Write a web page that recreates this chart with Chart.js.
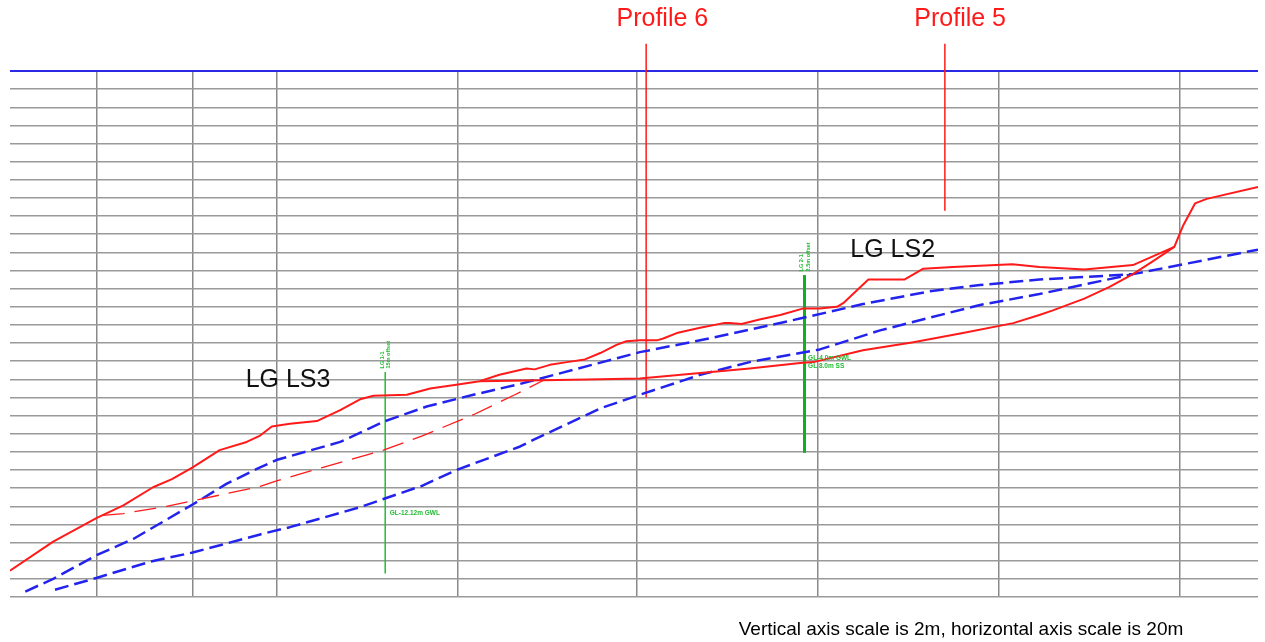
<!DOCTYPE html>
<html lang="en">
<head>
    <meta charset="UTF-8">
    <title>Profile LG LS2 / LG LS3</title>
    <script src="https://cdn.jsdelivr.net/npm/chart.js"></script>
    <style>
        body { margin: 0; background: #fff; }
        #box { width: 1265px; height: 642px; }
    </style>
</head>
<body>
<div id="box"><canvas id="perfil"></canvas></div>

<script>
    // chainage (m) and level (m)
    const groundX = [0, 4.8, 9.6, 12.6, 15.9, 18.0, 20.3, 23.3, 26.3, 27.8, 29.1, 31.1, 34.1, 36.7, 38.9, 40.4, 44.1, 46.7, 49.6, 52.2, 54.4, 57.4, 58.3, 60.0, 61.9, 63.9, 65.6, 67.4, 68.5, 70.0, 71.9, 72.6, 74.1, 76.7, 79.3, 80.0, 81.3, 83.3, 85.6, 88.1, 90.0, 91.9, 92.6, 95.4, 99.4, 101.5, 104.8, 111.4, 114.4, 119.4, 124.8, 129.4, 130.4, 131.7, 133.0, 138.7];
    const groundY = [2.9, 6.1, 8.7, 10.1, 12.1, 13.0, 14.3, 16.2, 17.1, 17.8, 18.8, 19.1, 19.4, 20.6, 21.8, 22.2, 22.3, 23.0, 23.4, 23.8, 24.5, 25.2, 25.1, 25.6, 25.9, 26.2, 26.9, 27.8, 28.2, 28.3, 28.3, 28.5, 29.1, 29.7, 30.2, 30.2, 30.1, 30.6, 31.1, 31.8, 31.8, 32.0, 32.4, 35.0, 35.0, 36.2, 36.4, 36.7, 36.4, 36.1, 36.6, 38.6, 41.0, 43.4, 43.9, 45.2];

    const lowerX = [52.2, 59.3, 65.6, 70.0, 76.7, 82.2, 87.8, 89.3, 94.8, 100.4, 105.9, 111.5, 114.4, 115.9, 119.4, 122.2, 124.8, 127.0, 129.4];
    const lowerY = [23.8, 23.9, 24.0, 24.1, 24.7, 25.2, 25.8, 25.9, 27.2, 28.1, 29.1, 30.2, 31.1, 31.6, 32.9, 34.2, 35.6, 37.0, 38.6];

    const oldGroundX = [10.3, 12.6, 17.4, 20.3, 27.8, 29.3, 34.8, 41.5, 45.9, 51.5, 56.1, 59.3];
    const oldGroundY = [9.0, 9.2, 10.0, 10.6, 12.2, 12.7, 14.3, 16.2, 17.8, 20.1, 22.3, 23.9];

    const slipAX = [1.7, 4.8, 9.6, 13.7, 20.3, 24.1, 27.8, 29.6, 36.7, 41.7, 46.3, 51.5, 56.7, 70.0, 76.7, 87.8, 94.8, 102.2, 107.8, 114.4, 119.6, 124.8, 138.7];
    const slipAY = [0.6, 2.0, 4.6, 6.4, 10.2, 12.5, 14.3, 15.1, 17.1, 19.4, 21.0, 22.3, 23.5, 27.0, 28.3, 30.7, 32.3, 33.7, 34.4, 35.0, 35.3, 35.6, 38.3];

    const slipBX = [5.0, 9.6, 15.6, 20.3, 27.8, 31.1, 38.9, 41.5, 45.9, 49.6, 56.7, 58.1, 65.6, 70.0, 76.7, 82.2, 87.8, 90.0, 96.7, 102.2, 107.8, 114.4, 124.8];
    const slipBY = [0.8, 2.1, 3.9, 4.9, 6.9, 7.7, 9.9, 10.8, 12.3, 14.0, 16.6, 17.3, 20.8, 22.3, 24.5, 25.9, 26.9, 27.3, 29.4, 30.8, 32.2, 33.4, 35.6];

    // section marks: chainage, bottom level, top level
    const profile6 = [70.7, 22.0, 61.0];
    const profile5 = [103.9, 42.6, 61.0];
    const lg11 = [41.7, 2.6, 24.8];
    const lg21 = [88.3, 15.9, 35.5];

    const gridX = [9.6, 20.3, 29.7, 49.8, 69.7, 89.8, 109.9, 130.0];
    const xMax = 138.7;
    const yMax = 58;

    function pares(xs, ys) {
        let r = [];
        for (let i = 0; i < xs.length; i++) {
            r.push({ x: xs[i], y: ys[i] });
        }
        return r;
    }

    function marca(m) {
        return [{ x: m[0], y: m[1] }, { x: m[0], y: m[2] }];
    }

    const vermelho = '#ff1a1a';
    const azul = '#2323ee';
    const verde = '#22bb33';

    const textos = [
        { t: 'Profile 6', x: 72.5, y: 63.7, cor: vermelho, font: '25px "Liberation Sans"' },
        { t: 'Profile 5', x: 105.6, y: 63.7, cor: vermelho, font: '25px "Liberation Sans"' },
        { t: 'LG LS3', x: 30.9, y: 23.9, cor: '#111', font: '25px "Liberation Sans"' },
        { t: 'LG LS2', x: 98.1, y: 38.3, cor: '#111', font: '25px "Liberation Sans"' },
        { t: 'GL-12.12m GWL', x: 42.2, y: 9.2, cor: verde, font: 'bold 6.5px "Liberation Sans"', align: 'left' },
        { t: 'GL-4.0m GWL', x: 88.7, y: 26.3, cor: verde, font: 'bold 6.5px "Liberation Sans"', align: 'left' },
        { t: 'GL 8.0m SS', x: 88.7, y: 25.4, cor: verde, font: 'bold 6.5px "Liberation Sans"', align: 'left' }
    ];
    const rotulos = [
        { linhas: ['LG 1-1', '15m offset'], x: 41.7, y: 25.2 },
        { linhas: ['LG 2-1', '2.5m offset'], x: 88.3, y: 35.9 }
    ];

    const pluginTextos = {
        id: 'textos',
        afterDatasetsDraw(chart) {
            const ctx = chart.ctx;
            const sx = chart.scales.x, sy = chart.scales.y;
            ctx.save();
            textos.forEach(function (a) {
                ctx.font = a.font;
                ctx.fillStyle = a.cor;
                ctx.textAlign = a.align || 'center';
                ctx.textBaseline = 'middle';
                ctx.fillText(a.t, sx.getPixelForValue(a.x), sy.getPixelForValue(a.y));
            });
            rotulos.forEach(function (r) {
                ctx.save();
                ctx.translate(sx.getPixelForValue(r.x), sy.getPixelForValue(r.y));
                ctx.rotate(-Math.PI / 2);
                ctx.font = 'bold 5.5px "Liberation Sans"';
                ctx.fillStyle = verde;
                ctx.textAlign = 'left';
                ctx.textBaseline = 'middle';
                ctx.fillText(r.linhas[0], 0, -3);
                ctx.fillText(r.linhas[1], 0, 3.5);
                ctx.restore();
            });
            ctx.font = '19px "Liberation Sans"';
            ctx.fillStyle = '#000';
            ctx.textAlign = 'center';
            ctx.textBaseline = 'middle';
            ctx.fillText('Vertical axis scale is 2m, horizontal axis scale is 20m', 961, 630);
            ctx.restore();
        }
    };

    const config = {
        type: 'line',
        data: {
            datasets: [
                { label: 'ground', data: pares(groundX, groundY), borderColor: vermelho, borderWidth: 2 },
                { label: 'ground lower', data: pares(lowerX, lowerY), borderColor: vermelho, borderWidth: 2 },
                { label: 'old ground', data: pares(oldGroundX, oldGroundY), borderColor: vermelho, borderWidth: 1.3, borderDash: [22, 10] },
                { label: 'slip A', data: pares(slipAX, slipAY), borderColor: azul, borderWidth: 2.5, borderDash: [14, 6] },
                { label: 'slip B', data: pares(slipBX, slipBY), borderColor: azul, borderWidth: 2.5, borderDash: [14, 6] },
                { label: 'Profile 6', data: marca(profile6), borderColor: vermelho, borderWidth: 1.5, clip: false },
                { label: 'Profile 5', data: marca(profile5), borderColor: vermelho, borderWidth: 1.5, clip: false },
                { label: 'LG 1-1', data: marca(lg11), borderColor: verde, borderWidth: 1.5 },
                { label: 'LG 2-1', data: marca(lg21), borderColor: '#11b022', borderWidth: 3 }
            ]
        },
        options: {
            responsive: true,
            maintainAspectRatio: false,
            animation: false,
            layout: { padding: { left: 10, right: 7, top: 71, bottom: 45 } },
            elements: {
                point: { radius: 0 },
                line: { tension: 0, fill: false, borderJoinStyle: 'round' }
            },
            plugins: {
                legend: { display: false },
                tooltip: { enabled: false }
            },
            scales: {
                x: {
                    type: 'linear',
                    min: 0,
                    max: xMax,
                    afterBuildTicks: function (axis) {
                        axis.ticks = gridX.map(function (v) { return { value: v }; });
                    },
                    ticks: { display: false },
                    border: { display: false },
                    grid: { color: '#8a8a8a', lineWidth: 1.5, drawTicks: false }
                },
                y: {
                    type: 'linear',
                    min: 0,
                    max: yMax,
                    ticks: { display: false, stepSize: 2 },
                    border: { display: false },
                    grid: {
                        drawTicks: false,
                        color: function (c) { return c.tick && c.tick.value === yMax ? '#2a2ae6' : '#9a9a9a'; },
                        lineWidth: function (c) { return c.tick && c.tick.value === yMax ? 2 : 1.5; }
                    }
                }
            }
        },
        plugins: [pluginTextos]
    };

    let grafico = new Chart(document.getElementById('perfil'), config);
</script>
</body>
</html>
